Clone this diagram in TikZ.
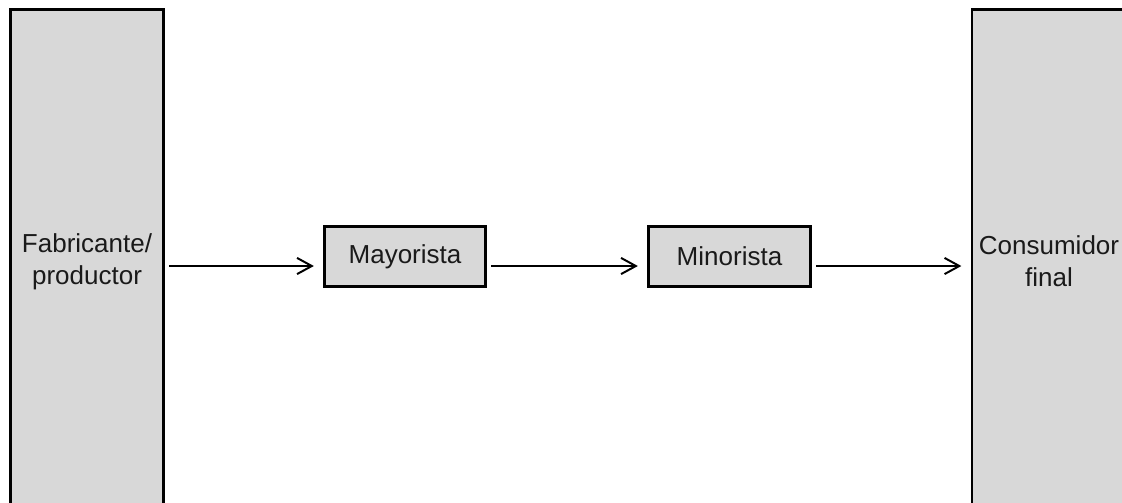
\documentclass[tikz,border=0pt]{standalone}
\usepackage{fontspec}
\setmainfont{Liberation Sans}
\usetikzlibrary{arrows.meta}
\definecolor{boxgray}{HTML}{D8D8D8}
\definecolor{textblack}{HTML}{1A1A1A}

\begin{document}
\begin{tikzpicture}[x=0.025cm,y=-0.025cm,>={Straight Barb[length=10.5pt,width=11.5pt]},
    font=\fontsize{18.5}{22.5}\selectfont,text=textblack,
    stagebox/.style={draw,fill=boxgray,line width=2.1pt,align=center,inner sep=0pt},
    flow/.style={->,line width=1.4pt,shorten <=3pt,shorten >=6.5pt}]
  \useasboundingbox (0,0) rectangle (1122,502);
  \clip (0,0) rectangle (1122,502);
  % the two ends of the chain run past the page edge
  \node[stagebox,minimum width=3.825cm,minimum height=12.6cm] (fab) at (87,261.5)
    {Fabricante/\\productor};
  \node[stagebox,minimum width=3.85cm,minimum height=12.6cm] (con) at (1049,261.5)
    {Consumidor\\final};
  \node[stagebox,minimum width=4.025cm,minimum height=1.5cm] (may) at (405,256.5)
    {Mayorista};
  \node[stagebox,minimum width=4.05cm,minimum height=1.5cm] (min) at (729.5,256.5)
    {Minorista};
  \coordinate (row) at (0,266);
  \draw[flow] (fab.east |- row) -- (may.west |- row);
  \draw[flow] (may.east |- row) -- (min.west |- row);
  \draw[flow] (min.east |- row) -- (con.west |- row);
\end{tikzpicture}
\end{document}
